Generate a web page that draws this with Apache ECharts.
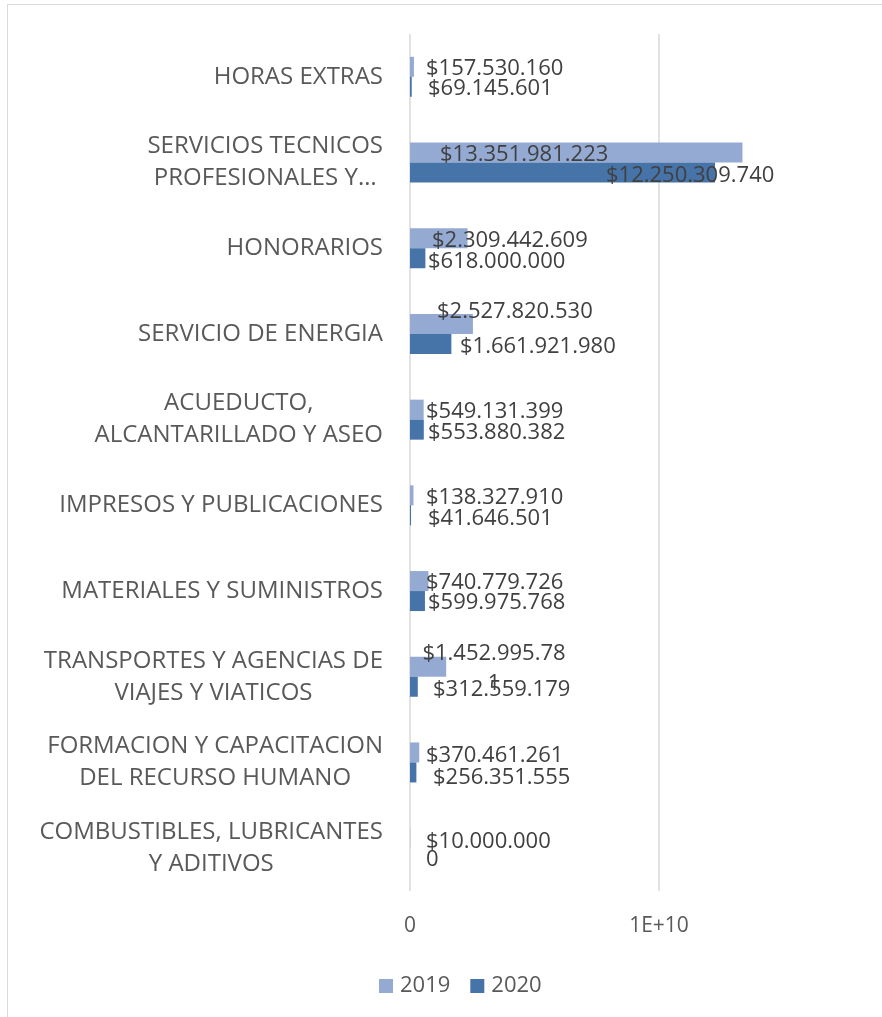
<!DOCTYPE html>
<html>
<head>
<meta charset="utf-8">
<script src="https://cdn.jsdelivr.net/npm/echarts@6/dist/echarts.min.js"></script>
<style>
html,body{margin:0;padding:0;background:#fff;overflow:hidden;width:882px;height:1017px;}
#chart{width:930px;height:1017px;}
</style>
</head>
<body>
<div id="chart"></div>
<script>
// ---- data ----
const categories = [
  'HORAS EXTRAS',
  'SERVICIOS TECNICOS\nPROFESIONALES Y…',
  'HONORARIOS',
  'SERVICIO DE ENERGIA',
  'ACUEDUCTO,\nALCANTARILLADO Y ASEO',
  'IMPRESOS Y PUBLICACIONES',
  'MATERIALES Y SUMINISTROS',
  'TRANSPORTES Y AGENCIAS DE\nVIAJES Y VIATICOS',
  'FORMACION Y CAPACITACION\nDEL RECURSO HUMANO',
  'COMBUSTIBLES, LUBRICANTES\nY ADITIVOS'
];
const values2019 = [157530160, 13351981223, 2309442609, 2527820530, 549131399, 138327910, 740779726, 1452995781, 370461261, 10000000];
const values2020 = [69145601, 12250309740, 618000000, 1661921980, 553880382, 41646501, 599975768, 312559179, 256351555, 0];
const seriesNames = ['2019', '2020'];
const xTicks = [0, 1e10, 2e10];

// ---- label placement (style only: manual label offsets as in the reference) ----
const shift2019 = [[16,2],[30,2],[22,2],[27,-12],[16,2],[16,2],[16,2],[84,2],[16,3],[16,4]];
const shift2020 = [[18,2],[196,3],[18,3],[50,3],[18,3],[18,3],[18,2],[23,3],[23,5],[16,2]];
const wrapped2019 = [7]; // label whose last digit wraps to a second line in the reference

function fmtMoney(v) {
  if (v === 0) return '0';
  return '$' + String(Math.round(v)).replace(/\B(?=(\d{3})+(?!\d))/g, '.');
}

const FONT = '"Open Sans", sans-serif';
const LABEL_COLOR = '#404040';
const AXIS_COLOR = '#595959';

function buildData(vals, shifts, wrapList) {
  return vals.map((v, i) => {
    const sh = shifts[i];
    const wrap = wrapList.indexOf(i) >= 0;
    let s = fmtMoney(v);
    if (wrap) s = s.slice(0, s.length - 1) + '\n' + s.slice(s.length - 1);
    return {
      value: v,
      label: {
        show: true,
        position: [sh[0], 10 + sh[1]],
        align: wrap ? 'center' : 'left',
        verticalAlign: 'middle',
        formatter: () => s,
        lineHeight: 30,
        fontSize: 22,
        fontFamily: FONT,
        color: LABEL_COLOR
      }
    };
  });
}

const rich = { c: { align: 'center', fontSize: 24, fontFamily: FONT, color: AXIS_COLOR, lineHeight: 32 } };

const chart = echarts.init(document.getElementById('chart'), null, { renderer: 'canvas' });
chart.setOption({
  animation: false,
  backgroundColor: '#ffffff',
  textStyle: { fontFamily: FONT },
  graphic: [{
    type: 'rect',
    shape: { x: 7.5, y: 4.5, width: 1200, height: 1200 },
    style: { fill: 'none', stroke: '#d9d9d9', lineWidth: 1 },
    silent: true,
    z: -10
  }],
  legend: {
    data: seriesNames,
    left: 374,
    top: 970,
    itemWidth: 14,
    itemHeight: 14,
    itemGap: 20,
    icon: 'rect',
    textStyle: { fontSize: 22, color: AXIS_COLOR, fontFamily: FONT, padding: [0, 0, 0, 2] }
  },
  grid: { left: 410, top: 34, right: 22, height: 857, containLabel: false },
  xAxis: {
    type: 'value',
    min: xTicks[0],
    max: xTicks[xTicks.length - 1],
    interval: xTicks[1] - xTicks[0],
    axisLine: { show: false },
    axisTick: { show: false },
    splitLine: { show: true, lineStyle: { color: '#d9d9d9', width: 1.5 } },
    axisLabel: {
      showMaxLabel: false,
      margin: 25,
      fontSize: 21,
      color: AXIS_COLOR,
      fontFamily: FONT,
      formatter: v => v === 0 ? '0' : (v / 1e10) + 'E+10'
    }
  },
  yAxis: {
    type: 'category',
    inverse: true,
    data: categories,
    axisLine: { show: false },
    axisTick: { show: false },
    axisLabel: {
      margin: 27,
      interval: 0,
      fontSize: 24,
      color: AXIS_COLOR,
      fontFamily: FONT,
      lineHeight: 32,
      formatter: v => v.split('\n').map(l => '{c|' + l + '}').join('\n'),
      rich: rich
    }
  },
  series: [
    {
      name: seriesNames[0],
      type: 'bar',
      barWidth: 20,
      barGap: '0%',
      itemStyle: { color: '#94aad2' },
      data: buildData(values2019, shift2019, wrapped2019)
    },
    {
      name: seriesNames[1],
      type: 'bar',
      barWidth: 20,
      barGap: '0%',
      itemStyle: { color: '#4673a8' },
      data: buildData(values2020, shift2020, [])
    }
  ]
});
</script>
</body>
</html>
